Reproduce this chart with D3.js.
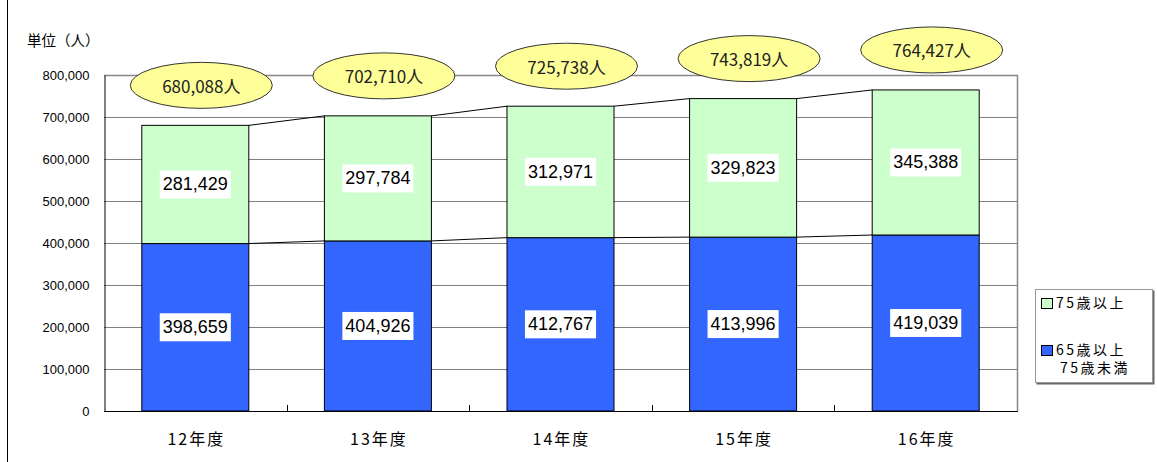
<!DOCTYPE html>
<meta charset="utf-8">
<title>65歳以上 人数の推移</title>
<style>
    body { margin: 0; background: #fff; }
    text { font-family: "Liberation Sans", Arial, sans-serif; }
    .jp { font-family: "Noto Sans CJK JP", sans-serif; }
    .grid line { stroke: #808080; stroke-width: 1; }
    .bar { stroke: #000; stroke-width: 1; }
    .serie-line { stroke: #000; stroke-width: 1; fill: none; }
</style>

<svg width="1157" height="462"></svg>

<script src="https://d3js.org/d3.v7.min.js"></script>
<script>

    var years = ["12年度", "13年度", "14年度", "15年度", "16年度"];
    var age65to74 = [398659, 404926, 412767, 413996, 419039];
    var age75plus = [281429, 297784, 312971, 329823, 345388];
    var totals = [680088, 702710, 725738, 743819, 764427];
    var yTicks = [0, 100000, 200000, 300000, 400000, 500000, 600000, 700000, 800000];

    var svg = d3.select("svg");

    var plot = { left: 104, right: 1017, top: 75, bottom: 411 };

    var x = d3.scaleBand()
        .domain(years)
        .range([plot.left, plot.right])
        .paddingInner(0.414)
        .paddingOuter(0.207);

    var y = d3.scaleLinear()
        .domain([0, 800000])
        .range([plot.bottom, plot.top]);

    var fmt = d3.format(",");

    // left edge of the outer chart frame
    svg.append("line")
        .attr("x1", 7.5).attr("x2", 7.5)
        .attr("y1", 0).attr("y2", 462)
        .attr("stroke", "#000");

    // gridlines
    svg.append("g")
        .attr("class", "grid")
        .selectAll("line")
        .data(yTicks.slice(1))
        .enter().append("line")
        .attr("x1", plot.left).attr("x2", plot.right)
        .attr("y1", function (d) { return Math.round(y(d)) + 0.5; })
        .attr("y2", function (d) { return Math.round(y(d)) + 0.5; });

    // plot area border (top / right)
    svg.append("path")
        .attr("d", "M" + plot.left + "," + (plot.top + 0.5) + "H" + (plot.right + 0.5) + "V" + plot.bottom)
        .attr("fill", "none")
        .attr("stroke", "#888")
        .attr("stroke-width", 1.5);

    // y axis
    var yAxis = svg.append("g")
        .attr("transform", "translate(" + (plot.left + 0.5) + ",0)")
        .call(d3.axisLeft(y).tickValues(yTicks).tickFormat(fmt).tickSize(0).tickPadding(15));
    yAxis.select(".domain").attr("stroke", "#000");
    yAxis.selectAll("text")
        .style("font-family", "'Liberation Sans', Arial, sans-serif")
        .style("font-size", "13px")
        .attr("fill", "#000");

    // x axis line + ticks at category boundaries
    svg.append("line")
        .attr("x1", plot.left).attr("x2", plot.right + 1)
        .attr("y1", plot.bottom + 0.5).attr("y2", plot.bottom + 0.5)
        .attr("stroke", "#000");

    var gap = x.step() - x.bandwidth();
    svg.append("g")
        .selectAll("line")
        .data(years.slice(1))
        .enter().append("line")
        .attr("x1", function (d) { return Math.round(x(d) - gap / 2) + 0.5; })
        .attr("x2", function (d) { return Math.round(x(d) - gap / 2) + 0.5; })
        .attr("y1", plot.bottom).attr("y2", plot.bottom - 6)
        .attr("stroke", "#000");

    svg.append("g")
        .selectAll("text")
        .data(years)
        .enter().append("text")
        .attr("class", "jp")
        .attr("x", function (d) { return x(d) + x.bandwidth() / 2 + 1; })
        .attr("y", 445)
        .attr("text-anchor", "middle")
        .style("font-size", "16px")
        .style("letter-spacing", "2px")
        .text(function (d) { return d; });

    // unit label
    svg.append("text")
        .attr("class", "jp")
        .attr("x", 27)
        .attr("y", 46)
        .style("font-size", "14.5px")
        .text("単位（人）");

    // stacked bars
    var bars = svg.append("g");
    bars.selectAll("rect.low")
        .data(years)
        .enter().append("rect")
        .attr("class", "bar")
        .attr("x", function (d) { return x(d); })
        .attr("width", x.bandwidth())
        .attr("y", function (d, i) { return y(age65to74[i]); })
        .attr("height", function (d, i) { return y(0) - y(age65to74[i]); })
        .attr("fill", "#3366ff");

    bars.selectAll("rect.high")
        .data(years)
        .enter().append("rect")
        .attr("class", "bar")
        .attr("x", function (d) { return x(d); })
        .attr("width", x.bandwidth())
        .attr("y", function (d, i) { return y(totals[i]); })
        .attr("height", function (d, i) { return y(age65to74[i]) - y(totals[i]); })
        .attr("fill", "#ccffcc");

    // series lines between bars
    [age65to74, totals].forEach(function (vals) {
        svg.append("g")
            .selectAll("line")
            .data(years.slice(0, -1))
            .enter().append("line")
            .attr("class", "serie-line")
            .attr("x1", function (d) { return x(d) + x.bandwidth(); })
            .attr("y1", function (d, i) { return y(vals[i]); })
            .attr("x2", function (d, i) { return x(years[i + 1]); })
            .attr("y2", function (d, i) { return y(vals[i + 1]); });
    });

    // value labels with white boxes
    function boxLabel(cx, cy, str) {
        var g = svg.append("g");
        var t = g.append("text")
            .attr("x", cx)
            .attr("y", cy)
            .attr("text-anchor", "middle")
            .attr("dominant-baseline", "central")
            .style("font-size", "18px")
            .text(str);
        var bb = t.node().getBBox();
        g.insert("rect", "text")
            .attr("x", bb.x - 3)
            .attr("y", cy - 14)
            .attr("width", bb.width + 6)
            .attr("height", 28)
            .attr("fill", "#fff");
    }

    years.forEach(function (d, i) {
        var cx = x(d) + x.bandwidth() / 2;
        boxLabel(cx, (y(0) + y(age65to74[i])) / 2, fmt(age65to74[i]));
        boxLabel(cx, (y(age65to74[i]) + y(totals[i])) / 2, fmt(age75plus[i]));
    });

    // total callouts
    var callouts = svg.append("g")
        .selectAll("g")
        .data(years)
        .enter().append("g")
        .attr("transform", function (d, i) {
            return "translate(" + (x(d) + x.bandwidth() / 2 + 6) + "," + (y(totals[i]) - 40) + ")";
        });

    callouts.append("ellipse")
        .attr("rx", 71)
        .attr("ry", 23)
        .attr("fill", "#ffff99")
        .attr("stroke", "#333")
        .attr("stroke-width", 1);

    callouts.append("text")
        .attr("class", "jp")
        .attr("text-anchor", "middle")
        .attr("dominant-baseline", "central")
        .style("font-size", "17px")
        .attr("fill", "#222")
        .text(function (d, i) { return fmt(totals[i]) + "人"; });

    // legend
    var legend = svg.append("g");
    legend.append("rect")
        .attr("x", 1036.5).attr("y", 290.5)
        .attr("width", 118).attr("height", 94)
        .attr("fill", "#666");
    legend.append("rect")
        .attr("x", 1035.5).attr("y", 289.5)
        .attr("width", 117).attr("height", 93)
        .attr("fill", "#fff")
        .attr("stroke", "#999");

    var legendItems = [
        { color: "#ccffcc", lines: ["75歳以上"], top: 298 },
        { color: "#3366ff", lines: ["65歳以上", "75歳未満"], top: 345 }
    ];

    legendItems.forEach(function (item) {
        legend.append("rect")
            .attr("x", 1041.5).attr("y", item.top + 0.5)
            .attr("width", 11).attr("height", 10)
            .attr("fill", item.color)
            .attr("stroke", "#000");
        item.lines.forEach(function (l, j) {
            legend.append("text")
                .attr("class", "jp")
                .attr("x", j === 0 ? 1056 : 1060)
                .attr("y", item.top + 10 + j * 18)
                .style("font-size", "14px")
                .style("letter-spacing", "2.5px")
                .text(l);
        });
    });

</script>
